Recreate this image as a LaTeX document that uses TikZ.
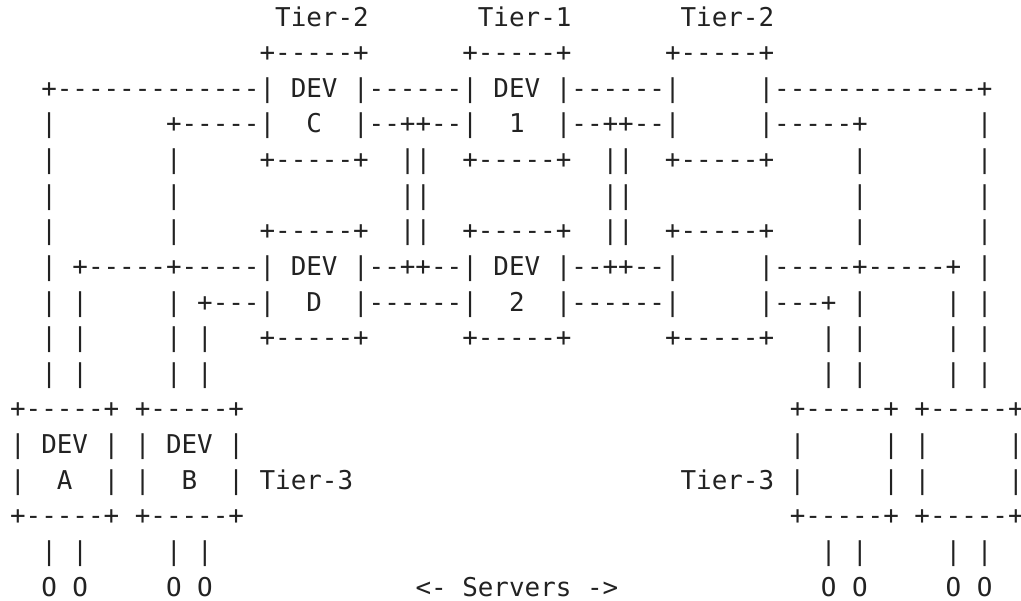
\documentclass[tikz,border=0pt]{standalone}
\usepackage{fontspec}
\setmonofont{DejaVu Sans Mono}
\definecolor{encre}{HTML}{222222}
\newcommand\blanc[1]{\kern#1\fontdimen2\font\relax}

\begin{document}
\begin{tikzpicture}[x=7.795pt,y=-17.8125pt]
      \tikzstyle{ligne}=[anchor=base west, inner sep=0pt, text=encre, font=\ttfamily\fontsize{12.95}{17.8}\selectfont]
      \useasboundingbox (-4.85pt,13pt) rectangle (505.65pt,-287pt);

      \node[ligne] (L1) at (0,0) {\blanc{17}Tier-2\blanc{7}Tier-1\blanc{7}Tier-2};
      \node[ligne] (L2) at (0,1) {\blanc{16}+-----+\blanc{6}+-----+\blanc{6}+-----+};
      \node[ligne] (L3) at (0,2) {\blanc{2}+-------------| DEV |------| DEV |------|\blanc{5}|-------------+};
      \node[ligne] (L4) at (0,3) {\blanc{2}|\blanc{7}+-----|\blanc{2}C\blanc{2}|--++--|\blanc{2}1\blanc{2}|--++--|\blanc{5}|-----+\blanc{7}|};
      \node[ligne] (L5) at (0,4) {\blanc{2}|\blanc{7}|\blanc{5}+-----+\blanc{2}||\blanc{2}+-----+\blanc{2}||\blanc{2}+-----+\blanc{5}|\blanc{7}|};
      \node[ligne] (L6) at (0,5) {\blanc{2}|\blanc{7}|\blanc{14}||\blanc{11}||\blanc{14}|\blanc{7}|};
      \node[ligne] (L7) at (0,6) {\blanc{2}|\blanc{7}|\blanc{5}+-----+\blanc{2}||\blanc{2}+-----+\blanc{2}||\blanc{2}+-----+\blanc{5}|\blanc{7}|};
      \node[ligne] (L8) at (0,7) {\blanc{2}| +-----+-----| DEV |--++--| DEV |--++--|\blanc{5}|-----+-----+ |};
      \node[ligne] (L9) at (0,8) {\blanc{2}| |\blanc{5}| +---|\blanc{2}D\blanc{2}|------|\blanc{2}2\blanc{2}|------|\blanc{5}|---+ |\blanc{5}| |};
      \node[ligne] (L10) at (0,9) {\blanc{2}| |\blanc{5}| |\blanc{3}+-----+\blanc{6}+-----+\blanc{6}+-----+\blanc{3}| |\blanc{5}| |};
      \node[ligne] (L11) at (0,10) {\blanc{2}| |\blanc{5}| |\blanc{39}| |\blanc{5}| |};
      \node[ligne] (L12) at (0,11) {+-----+ +-----+\blanc{35}+-----+ +-----+};
      \node[ligne] (L13) at (0,12) {| DEV | | DEV |\blanc{35}|\blanc{5}| |\blanc{5}|};
      \node[ligne] (L14) at (0,13) {|\blanc{2}A\blanc{2}| |\blanc{2}B\blanc{2}| Tier-3\blanc{21}Tier-3 |\blanc{5}| |\blanc{5}|};
      \node[ligne] (L15) at (0,14) {+-----+ +-----+\blanc{35}+-----+ +-----+};
      \node[ligne] (L16) at (0,15) {\blanc{2}| |\blanc{5}| |\blanc{39}| |\blanc{5}| |};
      \node[ligne] (L17) at (0,16) {\blanc{2}O O\blanc{5}O O\blanc{13}<- Servers ->\blanc{13}O O\blanc{5}O O};

    \end{tikzpicture}
\end{document}
